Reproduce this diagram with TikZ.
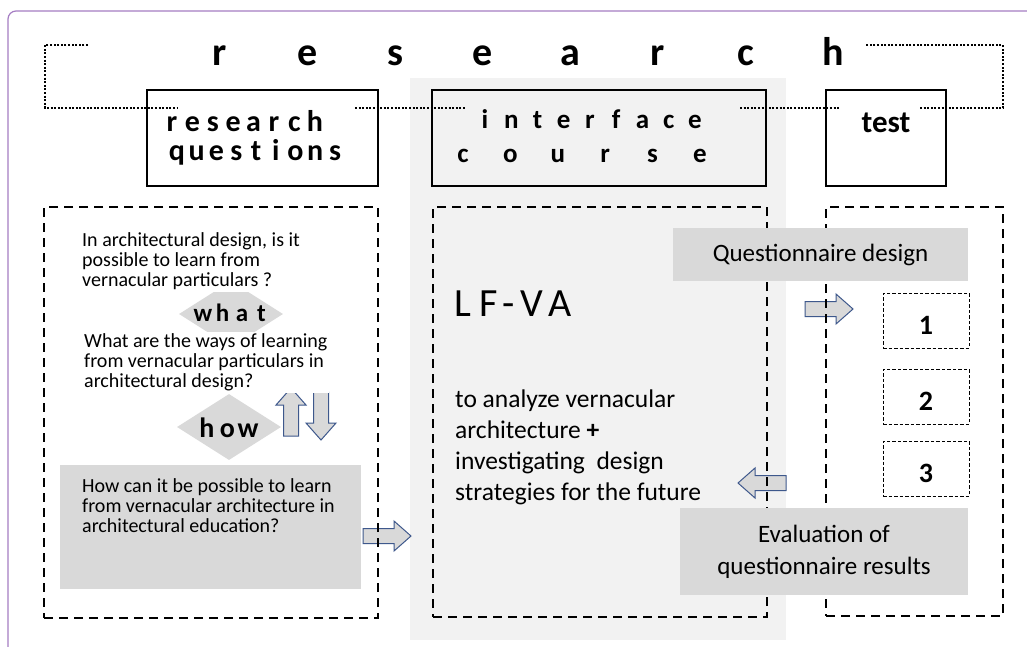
\documentclass[tikz,border=0pt]{standalone}
\usepackage{fontspec}
\setmainfont{Carlito}
\usetikzlibrary{shapes.geometric}

\definecolor{framepurple}{RGB}{165,125,195}
\definecolor{colgray}{RGB}{242,242,242}
\definecolor{boxgray}{RGB}{217,217,217}
\definecolor{arrowblue}{RGB}{62,88,140}

\tikzset{
  barrow/.pic = {
    \draw[blockarrow] (0,-7.5) -- (31,-7.5) -- (31,-15) -- (48,0)
      -- (31,15) -- (31,7.5) -- (0,7.5) -- cycle;
  }
}

\begin{document}
\begin{tikzpicture}[
    x = 1pt, y = -1pt,
    frame/.style = {draw=framepurple, line width=1.2pt, rounded corners=8pt},
    hdrbox/.style = {draw, line width=2pt, inner sep=0pt},
    dashbox/.style = {draw, line width=2.2pt, dash pattern=on 9pt off 6pt, inner sep=0pt},
    numbox/.style = {draw, line width=0.9pt, dash pattern=on 3.5pt off 2pt,
      minimum width=86pt, minimum height=55pt},
    graybox/.style = {fill=boxgray, inner sep=0pt},
    dotline/.style = {line width=2pt, dash pattern=on 2pt off 1.6pt},
    blockarrow/.style = {draw=arrowblue, fill=boxgray, line width=1pt},
    tag/.style = {fill=boxgray, diamond, inner sep=0pt, minimum width=104pt, minimum height=66pt},
    letter/.style = {anchor=base, inner sep=0pt, font=\fontsize{#1}{#1}\selectfont\bfseries},
    question/.style = {anchor=north west, align=left, fill=white, inner sep=2pt,
      font=\fontsize{20}{20}\selectfont},
    body/.style = {anchor=north west, align=left, inner sep=0pt, font=\fontsize{25.5}{31}\selectfont}
    ]
    \useasboundingbox (0,0) rectangle (1027,646);
    \fill[white] (0,0) rectangle (1027,646);
    \draw[frame] (8,700) |- (1080,11);
    \fill[colgray] (410,78) rectangle (786,640);

    % dotted bracket round the three headings
    \draw[dotline] (88,45) -| (45,108) -- (178,108);
    \draw[dotline] (355,108) -- (465,108);
    \draw[dotline] (740,108) -- (840,108);
    \draw[dotline] (920,108) -| (1003,45) -- (866,45);

    \foreach \c [count=\i from 0] in {r,e,s,e,a,r,c,h}
      \node[letter=40] (hdr\i) at (220+87.6*\i,65) {\c};

    % headings
    \node[hdrbox, minimum width=231pt, minimum height=96pt] (rq) at (262.5,138) {};
    \node[hdrbox, minimum width=334pt, minimum height=96pt] (ic) at (599,138) {};
    \node[hdrbox, minimum width=120pt, minimum height=96pt] (tst) at (886,138) {};
    \foreach \c [count=\i from 0] in {r,e,s,e,a,r,c,h}
      \node[letter=30] (rqa\i) at (172+20.4*\i,131) {\c};
    \foreach \c [count=\i from 0] in {q,u,e,s,t,i,o,n,s}
      \node[letter=30] (rqb\i) at (177+19.75*\i,160) {\c};
    \foreach \c [count=\i from 0] in {i,n,t,e,r,f,a,c,e}
      \node[letter=27] (ica\i) at (485+26.25*\i,128) {\c};
    \foreach \c [count=\i from 0] in {c,o,u,r,s,e}
      \node[letter=27] (icb\i) at (463+47.4*\i,162) {\c};
    \node[letter=31] (tstlabel) at (886,132) {test};

    % block arrows (under the dashed frames)
    \pic at (363,536) {barrow};
    \pic[rotate=90] at (291,436) {barrow};
    \pic[rotate=-90] at (321,392) {barrow};
    \pic at (805,309) {barrow};
    \pic[rotate=180] at (786,483) {barrow};

    \node[dashbox, minimum width=334pt, minimum height=411pt] (left) at (211,412.5) {};
    \node[dashbox, minimum width=334pt, minimum height=410pt] (mid) at (600,412) {};
    \node[dashbox, minimum width=177pt, minimum height=409pt] (right) at (914.5,411.5) {};

    % research questions
    \node[tag] (what) at (231,314) {};
    \node[tag] (how) at (229,427) {};
    \foreach \c [count=\i from 0] in {w,h,a,t}
      \node[letter=25] (wa\i) at (203+19.5*\i,321) {\c};
    \foreach \c [count=\i from 0] in {h,o,w}
      \node[letter=28] (ho\i) at (207+20.5*\i,437) {\c};
    \node[question] (q1) at (80,230.5) {In architectural design, is it\\possible to learn from\\vernacular particulars ?};
    \node[question] (q2) at (82,331.5) {What are the ways of learning\\from vernacular particulars in\\architectural design?};
    \node[graybox, minimum width=301pt, minimum height=124pt] (q3box) at (210.5,527) {};
    \node[question, fill=none] (q3) at (80,476.5) {How can it be possible to learn\\from vernacular architecture in\\architectural education?};

    % interface course
    \foreach \c/\px [count=\i] in {L/463, F/489, -/509, V/532, A/560}
      \node[anchor=base, inner sep=0pt, font=\fontsize{40}{40}\selectfont] (lf\i) at (\px,316) {\c};
    \node[body] (aim) at (455,390) {to analyze vernacular\\architecture \textbf{+}\\investigating\ \ design\\strategies for the future};

    % test
    \node[graybox, minimum width=295pt, minimum height=53pt, font=\fontsize{25}{25}\selectfont] (qd) at (820.5,254.5) {Questionnaire design};
    \foreach \y [count=\i] in {320.5,396.5,468.5} {
      \node[numbox] (n\i) at (926,\y) {};
      \node[letter=28] (n\i label) at (926,\y+14) {\i};
    }
    \node[graybox, minimum width=288pt, minimum height=87pt, align=center, font=\fontsize{25}{32}\selectfont] (ev) at (824,551.5) {Evaluation of\\questionnaire results};
\end{tikzpicture}
\end{document}
